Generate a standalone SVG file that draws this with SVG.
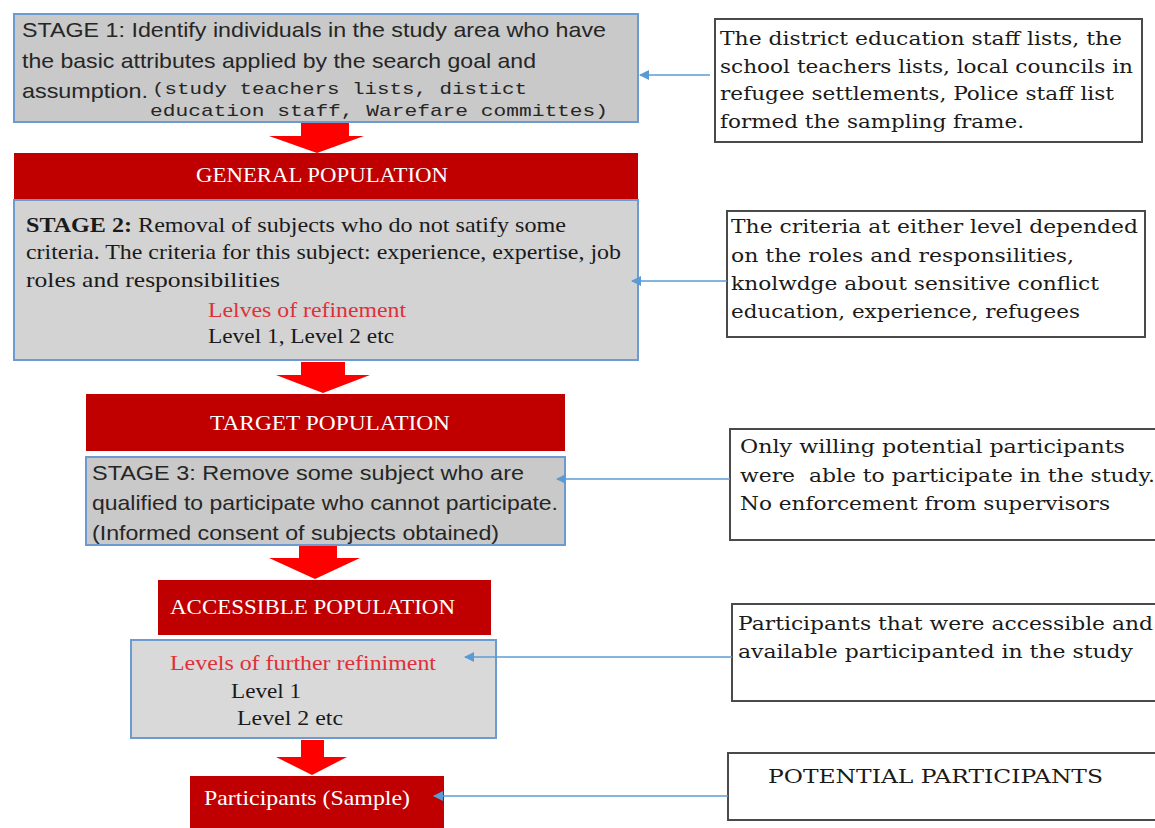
<svg xmlns="http://www.w3.org/2000/svg" width="1155" height="828" viewBox="0 0 1155 828">
<defs>
<style>
.stage{fill:#c9c9c9;stroke:#6d9bd1;stroke-width:2}
.bar{fill:#c00000}
.note{fill:#ffffff;stroke:#4a4a4a;stroke-width:2}
.sans{font-family:"Liberation Sans",Arial,sans-serif;font-size:21px;fill:#262626}
.mono{font-family:"Liberation Mono","Courier New",monospace;font-size:17px;fill:#262626}
.serif{font-family:"Liberation Serif","Times New Roman",serif;font-size:21px;fill:#1a1a1a}
.red{fill:#e0303a}
.bartxt{font-family:"Liberation Serif","Times New Roman",serif;font-size:21px;fill:#ffffff}
.ntxt{font-family:"DejaVu Serif",Georgia,serif;font-size:19px;fill:#1a1a1a}
.blk{fill:#ff0000}
.conn{stroke:#5b9bd5;stroke-width:1.5;fill:none;marker-end:url(#ah)}
</style>
<marker id="ah" viewBox="0 0 10 10" refX="9" refY="5" markerWidth="11" markerHeight="10" markerUnits="userSpaceOnUse" orient="auto">
<path d="M0,0 L10,5 L0,10 z" fill="#5b9bd5"/>
</marker>
</defs>
<rect width="1155" height="828" fill="#ffffff"/>

<g id="stage1">
<rect class="stage" x="14" y="14" width="624" height="108"/>
<text class="sans" x="22" y="37" textLength="584" lengthAdjust="spacingAndGlyphs">STAGE 1: Identify individuals in the study area who have</text>
<text class="sans" x="22" y="68" textLength="514" lengthAdjust="spacingAndGlyphs">the basic attributes applied by the search goal and</text>
<text class="sans" x="22" y="98" textLength="126" lengthAdjust="spacingAndGlyphs">assumption.</text>
<text class="mono" x="152" y="94" textLength="375" lengthAdjust="spacingAndGlyphs">(study teachers lists, distict</text>
<text class="mono" x="150" y="116" textLength="458" lengthAdjust="spacingAndGlyphs">education staff, Warefare committes)</text>
</g>

<g id="arrow1"><polygon class="blk" points="301,123 349,123 349,136 364,136 317,153 269,136 301,136"/></g>

<g id="general">
<rect class="bar" x="14" y="153" width="624" height="46"/>
<text class="bartxt" x="322" y="182" text-anchor="middle" textLength="252" lengthAdjust="spacingAndGlyphs">GENERAL POPULATION</text>
</g>

<g id="stage2">
<rect class="stage" x="14" y="200" width="624" height="160" style="fill:#d3d3d3"/>
<text class="serif" x="26" y="232" textLength="540" lengthAdjust="spacingAndGlyphs"><tspan font-weight="bold">STAGE 2:</tspan> Removal of subjects who do not satify some</text>
<text class="serif" x="26" y="259" textLength="595" lengthAdjust="spacingAndGlyphs">criteria. The criteria for this subject: experience, expertise, job</text>
<text class="serif" x="26" y="287" textLength="254" lengthAdjust="spacingAndGlyphs">roles and responsibilities</text>
<text class="serif red" x="208" y="317" textLength="198" lengthAdjust="spacingAndGlyphs">Lelves of refinement</text>
<text class="serif" x="208" y="343" textLength="186" lengthAdjust="spacingAndGlyphs">Level 1, Level 2 etc</text>
</g>

<g id="arrow2"><polygon class="blk" points="301,362 345,362 345,375 370,375 323,393 276,375 301,375"/></g>

<g id="target">
<rect class="bar" x="86" y="394" width="479" height="57"/>
<text class="bartxt" x="330" y="430" text-anchor="middle" textLength="240" lengthAdjust="spacingAndGlyphs">TARGET POPULATION</text>
</g>

<g id="stage3">
<rect class="stage" x="86" y="457" width="479" height="88"/>
<text class="sans" x="92" y="480" textLength="432" lengthAdjust="spacingAndGlyphs">STAGE 3: Remove some subject who are</text>
<text class="sans" x="92" y="510" textLength="466" lengthAdjust="spacingAndGlyphs">qualified to participate who cannot participate.</text>
<text class="sans" x="92" y="540" textLength="407" lengthAdjust="spacingAndGlyphs">(Informed consent of subjects obtained)</text>
</g>

<g id="arrow3"><polygon class="blk" points="299,546 337,546 337,558 360,558 315,579 269,558 299,558"/></g>

<g id="accessible">
<rect class="bar" x="158" y="580" width="333" height="55"/>
<text class="bartxt" x="170" y="614" textLength="285" lengthAdjust="spacingAndGlyphs">ACCESSIBLE POPULATION</text>
</g>

<g id="levels">
<rect class="stage" x="131" y="640" width="365" height="98" style="fill:#d9d9d9"/>
<text class="serif red" x="170" y="670" textLength="266" lengthAdjust="spacingAndGlyphs">Levels of further refiniment</text>
<text class="serif" x="231" y="698" textLength="70" lengthAdjust="spacingAndGlyphs">Level 1</text>
<text class="serif" x="237" y="725" textLength="106" lengthAdjust="spacingAndGlyphs">Level 2 etc</text>
</g>

<g id="arrow4"><polygon class="blk" points="301,740 324,740 324,757 347,757 312,775 276,757 301,757"/></g>

<g id="participants">
<rect class="bar" x="190" y="776" width="254" height="56"/>
<text class="bartxt" x="204" y="805" textLength="206" lengthAdjust="spacingAndGlyphs">Participants (Sample)</text>
</g>

<g id="note1">
<rect class="note" x="715" y="19" width="427" height="123"/>
<text class="ntxt" x="720" y="45" textLength="402" lengthAdjust="spacingAndGlyphs">The district education staff lists, the</text>
<text class="ntxt" x="720" y="73" textLength="413" lengthAdjust="spacingAndGlyphs">school teachers lists, local councils in</text>
<text class="ntxt" x="720" y="100" textLength="394" lengthAdjust="spacingAndGlyphs">refugee settlements, Police staff list</text>
<text class="ntxt" x="720" y="128" textLength="304" lengthAdjust="spacingAndGlyphs">formed the sampling frame.</text>
</g>

<g id="note2">
<rect class="note" x="727" y="211" width="418" height="126"/>
<text class="ntxt" x="731" y="233" textLength="407" lengthAdjust="spacingAndGlyphs">The criteria at either level depended</text>
<text class="ntxt" x="731" y="262" textLength="343" lengthAdjust="spacingAndGlyphs">on the roles and responsilities,</text>
<text class="ntxt" x="731" y="290" textLength="368" lengthAdjust="spacingAndGlyphs">knolwdge about sensitive conflict</text>
<text class="ntxt" x="731" y="318" textLength="349" lengthAdjust="spacingAndGlyphs">education, experience, refugees</text>
</g>

<g id="note3">
<rect class="note" x="730" y="429" width="430" height="111"/>
<text class="ntxt" x="740" y="453" textLength="385" lengthAdjust="spacingAndGlyphs">Only willing potential participants</text>
<text class="ntxt" x="740" y="482" textLength="415" lengthAdjust="spacingAndGlyphs" xml:space="preserve">were  able to participate in the study.</text>
<text class="ntxt" x="740" y="510" textLength="370" lengthAdjust="spacingAndGlyphs">No enforcement from supervisors</text>
</g>

<g id="note4">
<rect class="note" x="732" y="604" width="430" height="97"/>
<text class="ntxt" x="738" y="630" textLength="415" lengthAdjust="spacingAndGlyphs">Participants that were accessible and</text>
<text class="ntxt" x="738" y="658" textLength="395" lengthAdjust="spacingAndGlyphs">available participanted in the study</text>
</g>

<g id="note5">
<rect class="note" x="728" y="753" width="432" height="67"/>
<text class="ntxt" x="768" y="783" textLength="335" lengthAdjust="spacingAndGlyphs">POTENTIAL PARTICIPANTS</text>
</g>

<g id="connectors">
<line class="conn" x1="710" y1="75" x2="640" y2="75"/>
<line class="conn" x1="727" y1="281" x2="632" y2="281"/>
<line class="conn" x1="730" y1="479" x2="557" y2="479"/>
<line class="conn" x1="732" y1="657" x2="465" y2="657"/>
<line class="conn" x1="728" y1="796" x2="434" y2="796"/>
</g>
</svg>
